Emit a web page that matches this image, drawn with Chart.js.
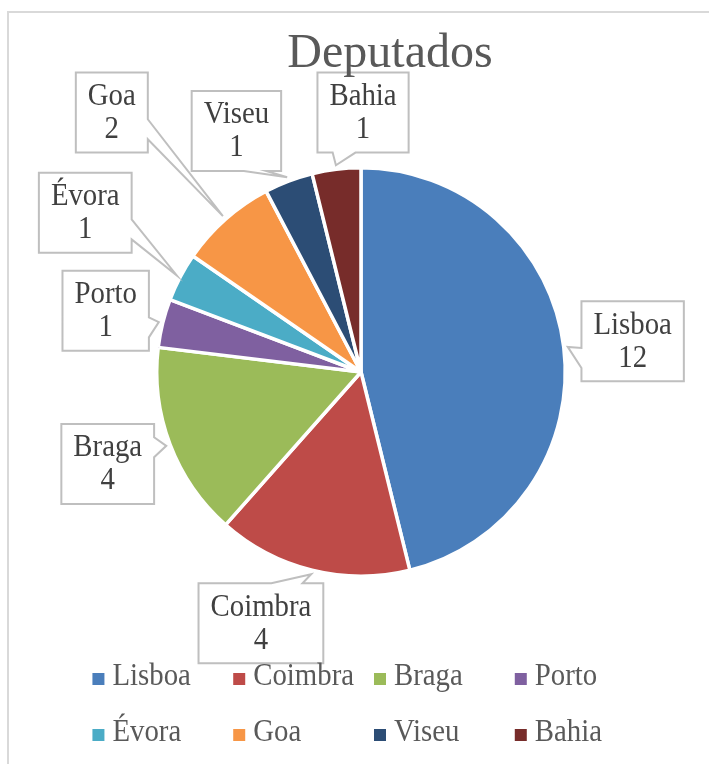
<!DOCTYPE html>
<html>
<head>
<meta charset="utf-8">
<title>Deputados</title>
<script src="https://cdn.jsdelivr.net/npm/chart.js@4.4.1/dist/chart.umd.min.js"></script>
<style>
  html, body { margin: 0; padding: 0; background: #fff; }
  #wrap { width: 709px; height: 764px; position: relative; }
</style>
</head>
<body>
<div id="wrap"><canvas id="grafico"></canvas></div>
<script>
const titulo = 'Deputados';
const categorias = ['Lisboa', 'Coimbra', 'Braga', 'Porto', 'Évora', 'Goa', 'Viseu', 'Bahia'];
const deputados = [12, 4, 4, 1, 1, 2, 1, 1];
const cores = ['#4a7ebb', '#be4b48', '#9bbb59', '#7f60a0', '#4bacc6', '#f79646', '#2c4d75', '#772c2a'];

const FONTE = "'Liberation Serif', 'Times New Roman', serif";
const COR_TEXTO = '#404040';
const ESTREITO = 0.9; // a fonte do original é mais estreita

// centro de cada caixa de rótulo, em raios a partir do centro da pizza
const posRotulos = [
    [1.33, -0.15], [-0.49, 1.23], [-1.24, 0.45], [-1.25, -0.30],
    [-1.35, -0.78], [-1.22, -1.27], [-0.61, -1.18], [0.01, -1.27]
];

function larguraTexto(ctx, t) {
    return ctx.measureText(t).width * ESTREITO;
}

// desenha o texto comprimido na horizontal; x é o ponto de ancoragem
function textoEstreito(ctx, t, x, y) {
    ctx.save();
    ctx.translate(x, y);
    ctx.scale(ESTREITO, 1);
    ctx.fillText(t, 0, 0);
    ctx.restore();
}

// caixa com ponta, no estilo do "wedgeRectCallout" do Office
function caixaComPonta(ctx, l, t, w, h, px, py) {
    const r = l + w, b = t + h;
    const cx = l + w / 2, cy = t + h / 2;
    const dx = px - cx, dy = py - cy;
    const dentro = px > l && px < r && py > t && py < b;
    let lado = null;
    if (!dentro) {
        if (Math.abs(dx) * h > Math.abs(dy) * w) lado = dx < 0 ? 'esq' : 'dir';
        else lado = dy < 0 ? 'topo' : 'base';
    }
    const xa = dx < 0 ? l + w * 2 / 12 : l + w * 7 / 12;
    const xb = dx < 0 ? l + w * 5 / 12 : l + w * 10 / 12;
    const ya = dy < 0 ? t + h * 2 / 12 : t + h * 7 / 12;
    const yb = dy < 0 ? t + h * 5 / 12 : t + h * 10 / 12;

    ctx.beginPath();
    ctx.moveTo(l, t);
    if (lado === 'topo') { ctx.lineTo(xa, t); ctx.lineTo(px, py); ctx.lineTo(xb, t); }
    ctx.lineTo(r, t);
    if (lado === 'dir') { ctx.lineTo(r, ya); ctx.lineTo(px, py); ctx.lineTo(r, yb); }
    ctx.lineTo(r, b);
    if (lado === 'base') { ctx.lineTo(xb, b); ctx.lineTo(px, py); ctx.lineTo(xa, b); }
    ctx.lineTo(l, b);
    if (lado === 'esq') { ctx.lineTo(l, yb); ctx.lineTo(px, py); ctx.lineTo(l, ya); }
    ctx.closePath();
    ctx.fillStyle = '#ffffff';
    ctx.fill();
    ctx.strokeStyle = '#bfbfbf';
    ctx.lineWidth = 2;
    ctx.lineJoin = 'miter';
    ctx.stroke();
}

const moldura = {
    id: 'moldura',
    beforeDraw(chart) {
        const ctx = chart.ctx;
        ctx.save();
        ctx.fillStyle = '#ffffff';
        ctx.fillRect(0, 0, chart.width, chart.height);
        ctx.strokeStyle = '#d9d9d9';
        ctx.lineWidth = 2;
        ctx.strokeRect(8, 12, chart.width + 20, chart.height + 20);
        ctx.restore();
    }
};

const rotulos = {
    id: 'rotulos',
    afterDraw(chart) {
        const ctx = chart.ctx;
        const arcs = chart.getDatasetMeta(0).data;
        const valores = chart.data.datasets[0].data;
        ctx.save();
        ctx.font = '32px ' + FONTE;
        ctx.textAlign = 'center';
        ctx.textBaseline = 'middle';
        arcs.forEach((arc, i) => {
            const R = arc.outerRadius;
            const meio = (arc.startAngle + arc.endAngle) / 2;
            const px = arc.x + Math.cos(meio) * (R + 4);
            const py = arc.y + Math.sin(meio) * (R + 4);
            const nome = chart.data.labels[i];
            const valor = String(valores[i]);
            const larg = Math.max(larguraTexto(ctx, nome), larguraTexto(ctx, valor)) + 24;
            const alt = 80;
            const cx = arc.x + posRotulos[i][0] * R;
            const cy = arc.y + posRotulos[i][1] * R;
            caixaComPonta(ctx, cx - larg / 2, cy - alt / 2, larg, alt, px, py);
            ctx.fillStyle = COR_TEXTO;
            textoEstreito(ctx, nome, cx, cy - 16);
            textoEstreito(ctx, valor, cx, cy + 17);
        });
        ctx.restore();
    }
};

const tituloELegenda = {
    id: 'tituloELegenda',
    afterDraw(chart) {
        const ctx = chart.ctx;
        const area = chart.chartArea;
        const meta = chart.getDatasetMeta(0);
        const centroX = meta.data[0].x;
        ctx.save();

        // título
        ctx.font = '48px ' + FONTE;
        ctx.fillStyle = '#595959';
        ctx.textAlign = 'center';
        ctx.textBaseline = 'alphabetic';
        ctx.fillText(titulo, centroX + 29, 67);

        // legenda em grade de 4 colunas
        ctx.font = '32px ' + FONTE;
        ctx.textAlign = 'left';
        ctx.textBaseline = 'middle';
        const quad = 12, folga = 8;
        const larguras = chart.data.labels.map(t => quad + folga + larguraTexto(ctx, t));
        const colW = Math.max(...larguras) + 20;
        const x0 = centroX - 2 * colW + 13;
        chart.data.labels.forEach((t, i) => {
            const col = i % 4, lin = Math.floor(i / 4);
            const x = x0 + col * colW;
            const y = area.bottom + 99 + lin * 56;
            ctx.fillStyle = cores[i];
            ctx.fillRect(x, y - quad / 2 + 2, quad, quad);
            ctx.fillStyle = '#595959';
            textoEstreito(ctx, t, x + quad + folga, y);
        });
        ctx.restore();
    }
};

new Chart(document.getElementById('grafico'), {
    type: 'pie',
    data: {
        labels: categorias,
        datasets: [{
            label: titulo,
            data: deputados,
            backgroundColor: cores,
            borderColor: '#ffffff',
            borderWidth: 3.5
        }]
    },
    options: {
        responsive: true,
        maintainAspectRatio: false,
        animation: false,
        layout: { padding: { left: 155, right: 142, top: 166, bottom: 186 } },
        plugins: {
            legend: { display: false },
            title: { display: false },
            tooltip: { enabled: false }
        }
    },
    plugins: [moldura, rotulos, tituloELegenda]
});
</script>
</body>
</html>
